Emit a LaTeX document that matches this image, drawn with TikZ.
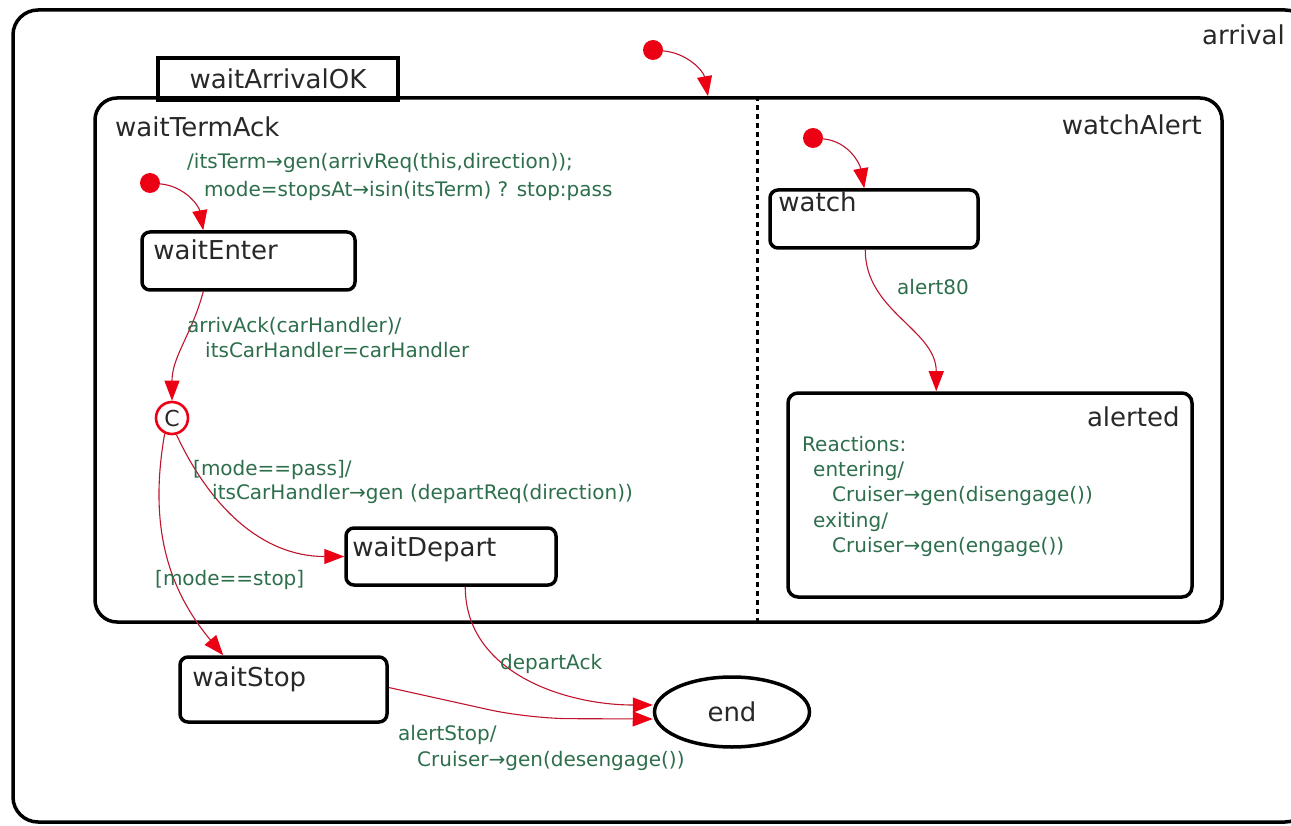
\documentclass[tikz,border=0pt]{standalone}
\usepackage{fontspec}
\setmainfont{DejaVu Sans}
\usetikzlibrary{arrows.meta,shapes.geometric}
\definecolor{lblgreen}{RGB}{45,110,75}
\definecolor{trred}{RGB}{190,20,45}
\definecolor{headred}{RGB}{235,0,20}
\definecolor{ink}{RGB}{40,40,40}
\begin{document}
\begin{tikzpicture}[x=1pt,y=1pt,
  title/.style={font=\fontsize{26}{30}\selectfont, text=ink, inner sep=0},
  lbl/.style={font=\fontsize{20}{24}\selectfont, text=lblgreen, inner sep=0, anchor=base west},
  frame/.style={draw=black, line width=3.5pt, inner sep=0},
  state/.style={frame, rounded corners=8pt},
  trans/.style={draw=trred, line width=1.1pt,
    -{Triangle[length=20pt,width=15pt,color=headred,fill=headred]}},
  init/.style={circle, fill=headred, minimum size=20pt, inner sep=0},
]
\clip (0,0) rectangle (1291,-826);

% outer composite state
\node[frame, rounded corners=25pt, minimum width=1297pt, minimum height=812pt] (arrival) at (661.5,-416) {};
\node[title, anchor=base east] (arrivalT) at (1285,-45) {arrival};

% waitArrivalOK with its name tab
\node[frame, minimum width=240pt, minimum height=42pt, title] (tab) at (278,-79) {waitArrivalOK};
\node[frame, rounded corners=22pt, minimum width=1127pt, minimum height=524pt] (bigbox) at (658.5,-360) {};
\draw[line width=3pt, dash pattern=on 5pt off 4pt]
  ([xshift=98.5pt]bigbox.north) -- ([xshift=98.5pt]bigbox.south);
\node[title, anchor=base west] (wtaT) at (115,-137) {waitTermAck};
\node[title, anchor=base east] (waT) at (1202,-135) {watchAlert};

% states
\node[state, minimum width=213pt, minimum height=58pt] (waitEnter) at (248.5,-261) {};
\node[title, anchor=base west] at ([shift={(13pt,-29pt)}]waitEnter.north west) {waitEnter};
\node[state, minimum width=210pt, minimum height=57pt] (waitDepart) at (451,-556.5) {};
\node[title, anchor=base west] at ([shift={(8pt,-30pt)}]waitDepart.north west) {waitDepart};
\node[state, minimum width=207pt, minimum height=65pt] (waitStop) at (283.5,-689.5) {};
\node[title, anchor=base west] at ([shift={(14pt,-31pt)}]waitStop.north west) {waitStop};
\node[state, minimum width=208pt, minimum height=58pt] (watch) at (874,-219) {};
\node[title, anchor=base west] at ([shift={(10pt,-23pt)}]watch.north west) {watch};
\node[state, rounded corners=10pt, minimum width=404pt, minimum height=204pt] (alerted) at (990,-495) {};
\node[title, anchor=base east] at ([shift={(-14pt,-35pt)}]alerted.north east) {alerted};
\node[frame, ellipse, minimum width=155pt, minimum height=70pt, title] (end) at (732,-712) {end};
\node[circle, draw=headred, line width=2.6pt, minimum size=32pt, inner sep=0,
      font=\fontsize{22}{24}\selectfont, text=ink] (C) at (172,-418) {C};

% initial pseudostates
\node[init] (i1) at (653,-50) {};
\node[init] (i2) at (150,-183) {};
\node[init] (i3) at (813,-138) {};

% transitions
\draw[trans] (i1) to[out=-5,in=100] ([xshift=49.5pt]bigbox.north);
\draw[trans] (i2) to[out=-5,in=100] ([xshift=63pt]waitEnter.north west);
\draw[trans] (i3) to[out=-5,in=100] ([xshift=96pt]watch.north west);
\draw[trans] ([xshift=63pt]waitEnter.south west) to[out=-105,in=90] (C.north);
\draw[trans] (C.-75) to[out=-65,in=180] (waitDepart.west);
\draw[trans] (C.-115) to[out=-100,in=130] ([xshift=45pt]waitStop.north west);
\draw[trans] ([xshift=121pt]waitDepart.south west) to[out=-90,in=180] ([yshift=7pt]end.west);
\draw[trans, rounded corners=40pt] ([yshift=2pt]waitStop.east) -- ++(140,-31) -- ([yshift=-7pt]end.west);
\draw[trans] ([xshift=97pt]watch.south west) to[out=-90,in=90] ([xshift=150pt]alerted.north west);

% transition labels
\node[lbl] at (187,-169) {/itsTerm→gen(arrivReq(this,direction));};
\node[lbl] at (204,-197) {mode=stopsAt→isin(itsTerm) ? stop:pass};
\node[lbl] at (187,-333) {arrivAck(carHandler)/};
\node[lbl] at (205,-358) {itsCarHandler=carHandler};
\node[lbl] at (193,-475) {[mode==pass]/};
\node[lbl] at (212,-499) {itsCarHandler→gen (departReq(direction))};
\node[lbl] at (155,-585) {[mode==stop]};
\node[lbl] at (500,-669) {departAck};
\node[lbl] at (398,-740) {alertStop/};
\node[lbl] at (417,-766) {Cruiser→gen(desengage())};
\node[lbl] at (897,-295) {alert80};

% reactions of alerted
\node[lbl] at (802,-451) {Reactions:};
\node[lbl] at (813,-476) {entering/};
\node[lbl] at (832,-501) {Cruiser→gen(disengage())};
\node[lbl] at (813,-527) {exiting/};
\node[lbl] at (832,-552) {Cruiser→gen(engage())};
\end{tikzpicture}
\end{document}
